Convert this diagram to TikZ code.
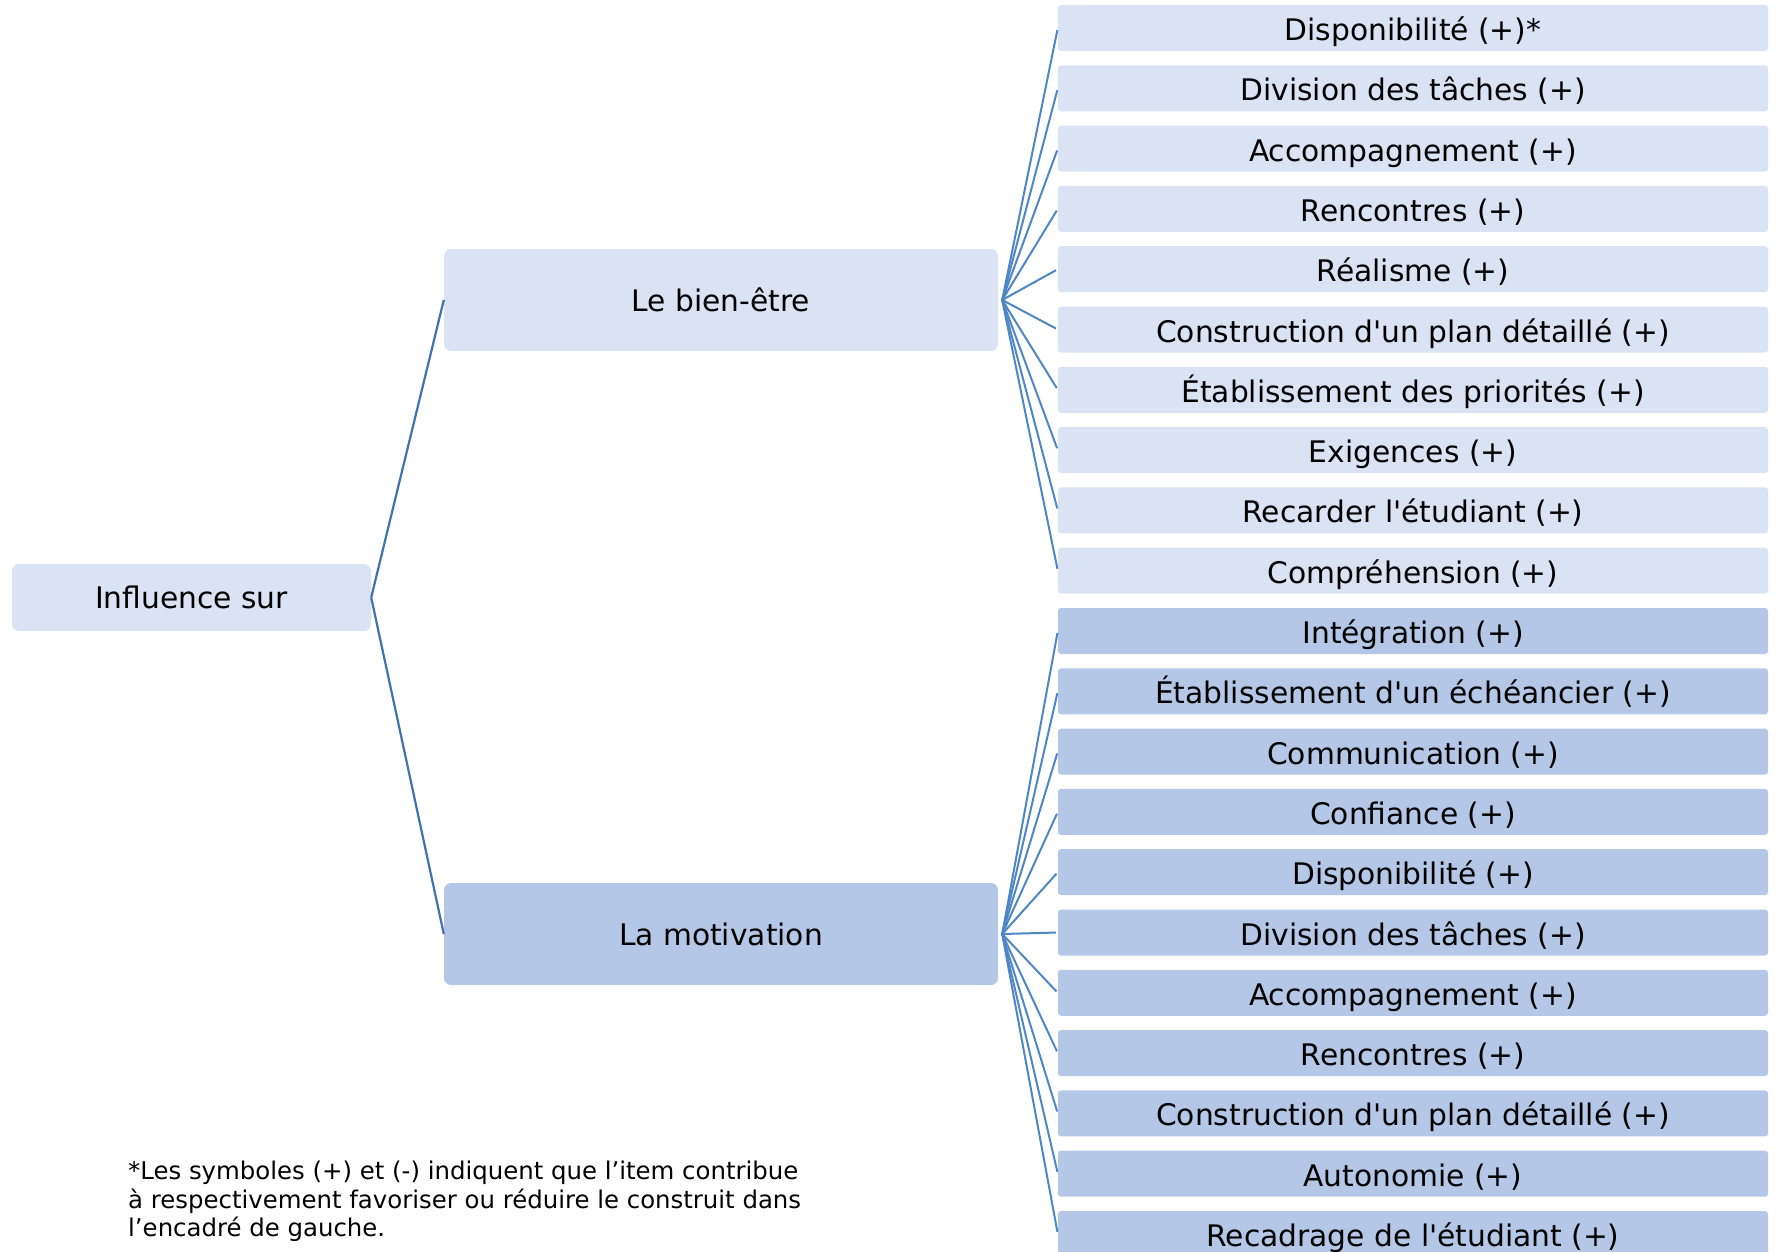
\documentclass[tikz,border=0pt]{standalone}
\usepackage{fontspec}
\setmainfont{DejaVu Sans}[Ligatures=TeXOff]
\usepackage{xcolor}
\definecolor{b1}{HTML}{DAE3F3}
\definecolor{b2}{HTML}{B4C7E7}
\definecolor{l1}{HTML}{3F72AF}
\definecolor{l2}{HTML}{4E86C6}

\tikzset{
  boite/.style={rounded corners=7pt, inner sep=0pt, minimum width=554pt, minimum height=102pt, font=\fontsize{29.7}{34}\selectfont},
  item/.style={rounded corners=3pt, inner sep=0pt, minimum width=710pt, minimum height=46pt, text height=27pt, text depth=2pt, font=\fontsize{29.7}{34}\selectfont},
  lien/.style={draw=l1, line width=2.2pt},
  rayon/.style={draw=l2, line width=2pt, shorten >=2pt}
}

\begin{document}
\begin{tikzpicture}[x=1pt,y=-1pt]
	\useasboundingbox (0,0) rectangle (1775,1252);
	\clip (0,0) rectangle (1775,1252); % la derniere case est coupee en bas
	\node [boite, fill=b1, minimum width=359pt, minimum height=67pt] (racine) at (191.5,597.5) {Influence sur};
	\node [boite, fill=b1] (bien) at (721,300) {Le bien-être};
	\node [boite, fill=b2] (motiv) at (721,934) {La motivation};
	\draw [lien] (racine.east) -- (bien.west);
	\draw [lien] (racine.east) -- (motiv.west);

	\coordinate (hubB) at ([xshift=4pt]bien.east);
	\coordinate (hubM) at ([xshift=4pt]motiv.east);

	% bien-etre
	\foreach \t [count=\i] in {Disponibilité (+)*, Division des tâches (+), Accompagnement (+), Rencontres (+), Réalisme (+), Construction d'un plan détaillé (+), Établissement des priorités (+), Exigences (+), Recarder l'étudiant (+), Compréhension (+)}
	{
		\node [item, fill=b1] (b\i) at (1413,{28+60.3*(\i-1)}) {\t};
		\draw [rayon] (hubB) -- (b\i.west);
	}

	% motivation
	\foreach \t [count=\i] in {Intégration (+), Établissement d'un échéancier (+), Communication (+), Confiance (+), Disponibilité (+), Division des tâches (+), Accompagnement (+), Rencontres (+), Construction d'un plan détaillé (+), Autonomie (+), Recadrage de l'étudiant (+)}
	{
		\node [item, fill=b2] (m\i) at (1413,{28+60.3*(\i+9)}) {\t};
		\draw [rayon] (hubM) -- (m\i.west);
	}

	\node [anchor=north west, align=left, inner sep=0pt, font=\fontsize{24.4}{28.3}\selectfont] (note) at (128,1161) {*Les symboles (+) et (-) indiquent que l’item contribue\\à respectivement favoriser ou réduire le construit dans\\l’encadré de gauche.};
\end{tikzpicture}
\end{document}
